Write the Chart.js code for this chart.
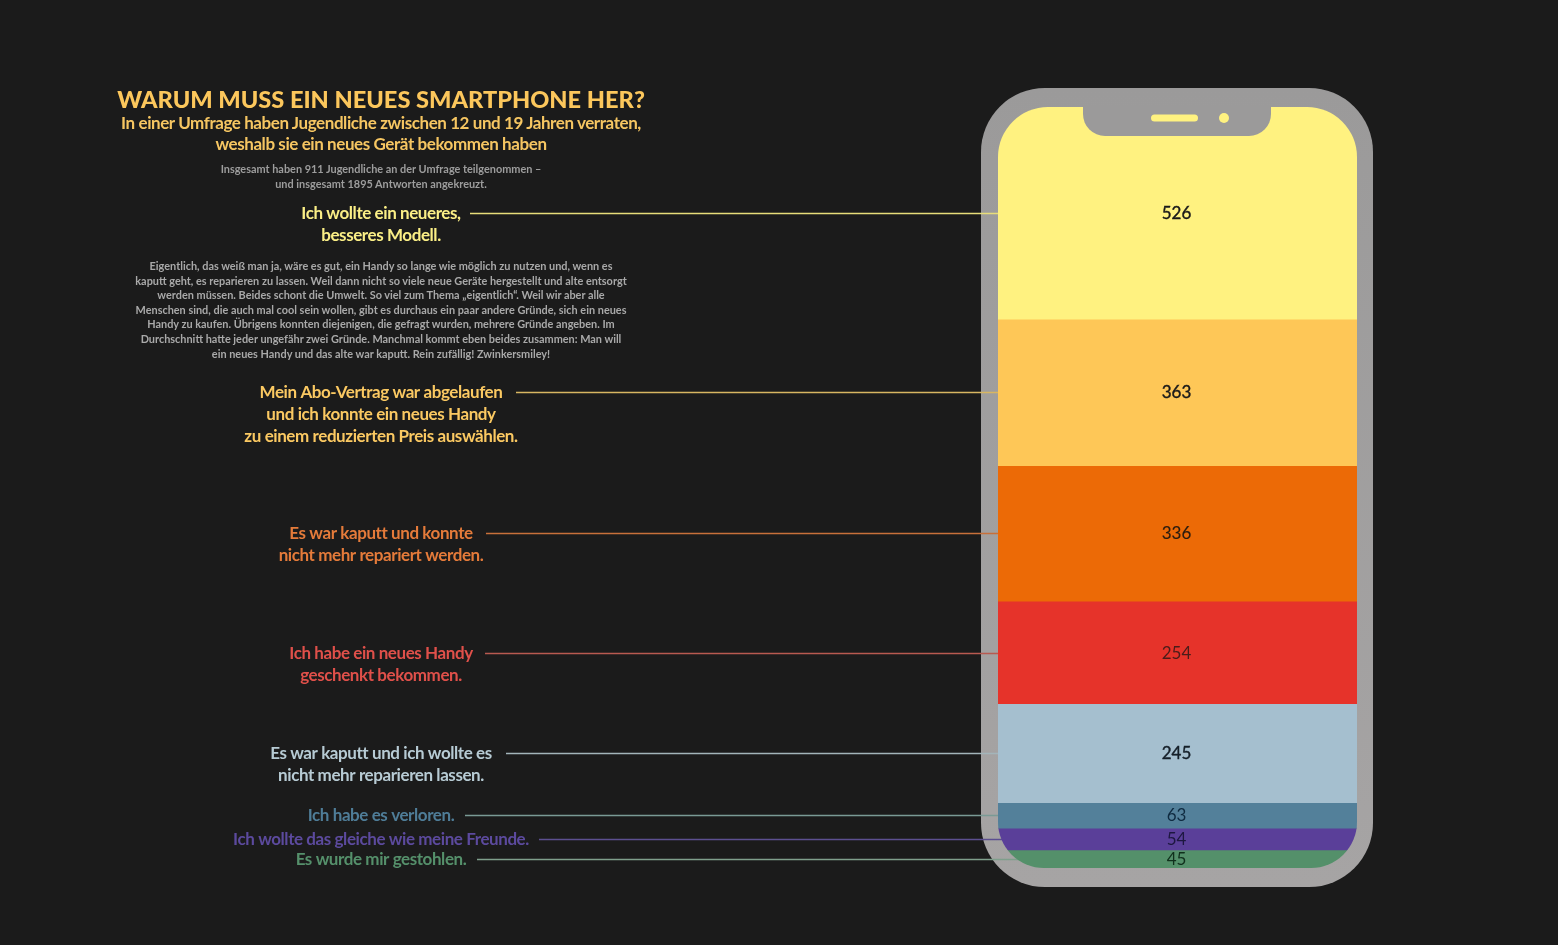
<!DOCTYPE html>
<html lang="de">
<head>
<meta charset="utf-8">
<title>Warum muss ein neues Smartphone her?</title>
<script src="https://cdn.jsdelivr.net/npm/chart.js@4"></script>
<style>
html,body{margin:0;padding:0;background:#1b1b1b;width:1558px;height:945px;overflow:hidden}
#wrap{position:relative;width:1558px;height:945px}
canvas{position:absolute;left:0;top:0}
.t{position:absolute;left:81px;width:600px;text-align:center;font-family:Lato,sans-serif;white-space:nowrap}
#h1{top:84px;font-size:23.6px;line-height:30px;font-weight:900;color:#fcc75c}
#h2{top:112px;font-size:17px;line-height:21px;font-weight:700;letter-spacing:-.42px;color:#f6c662}
#h3{top:162px;font-size:10.9px;line-height:14.5px;font-weight:700;color:#9d9d9d}
#p{top:259px;font-size:10.9px;line-height:14.6px;font-weight:700;color:#a9a9a9}
</style>
</head>
<body>
<div id="wrap">
<canvas id="c" width="1558" height="945"></canvas>
<div class="t" id="h1">WARUM MUSS EIN NEUES SMARTPHONE HER?</div>
<div class="t" id="h2">In einer Umfrage haben Jugendliche zwischen 12 und 19 Jahren verraten,<br>weshalb sie ein neues Gerät bekommen haben</div>
<div class="t" id="h3">Insgesamt haben 911 Jugendliche an der Umfrage teilgenommen –<br>und insgesamt 1895 Antworten angekreuzt.</div>
<div class="t" id="p">Eigentlich, das weiß man ja, wäre es gut, ein Handy so lange wie möglich zu nutzen und, wenn es<br>kaputt geht, es reparieren zu lassen. Weil dann nicht so viele neue Geräte hergestellt und alte entsorgt<br>werden müssen. Beides schont die Umwelt. So viel zum Thema „eigentlich“. Weil wir aber alle<br>Menschen sind, die auch mal cool sein wollen, gibt es durchaus ein paar andere Gründe, sich ein neues<br>Handy zu kaufen. Übrigens konnten diejenigen, die gefragt wurden, mehrere Gründe angeben. Im<br>Durchschnitt hatte jeder ungefähr zwei Gründe. Manchmal kommt eben beides zusammen: Man will<br>ein neues Handy und das alte war kaputt. Rein zufällig! Zwinkersmiley!</div>
</div>
<script>
const reasons = [
  ["Ich wollte ein neueres,", "besseres Modell."],
  ["Mein Abo-Vertrag war abgelaufen", "und ich konnte ein neues Handy", "zu einem reduzierten Preis auswählen."],
  ["Es war kaputt und konnte", "nicht mehr repariert werden."],
  ["Ich habe ein neues Handy", "geschenkt bekommen."],
  ["Es war kaputt und ich wollte es", "nicht mehr reparieren lassen."],
  ["Ich habe es verloren."],
  ["Ich wollte das gleiche wie meine Freunde."],
  ["Es wurde mir gestohlen."]
];
const answers = [526, 363, 336, 254, 245, 63, 54, 45];
const barColors = ["#fff280", "#fec757", "#ec6a06", "#e6332a", "#a5bfcf", "#53809a", "#5a3f99", "#54906a"];
const labelColors = ["#fbef86", "#fbc962", "#e57b3a", "#e0504a", "#b7cbd4", "#4f7d98", "#5c4a9e", "#55906b"];
const leaderColors = ["#e8dd7a", "#d8b662", "#c8703a", "#b85a50", "#a3b5ba", "#7a9a95", "#5c4f90", "#7f9f8c"];
const valueColors = ["#1a1a1a", "#1a1a1a", "#2a1c10", "#4a1d1a", "#16202a", "#0f2a40", "#1d1740", "#10301c"];
const valueStroke = [0.4, 0.4, 0.15, 0, 0.4, 0, 0, 0];
const leaderStarts = [470, 516, 486, 485, 506, 465, 539, 477];

const total = answers.reduce((a, b) => a + b, 0);
const LABEL_X = 381;

function screenPath(ctx, a) {
  ctx.beginPath();
  ctx.roundRect(a.left, a.top, a.right - a.left, a.bottom - a.top, [50, 50, 46, 46]);
}

const phone = {
  id: "phone",
  beforeDatasetsDraw(chart) {
    const { ctx, chartArea: a, scales: { y } } = chart;
    const g = ctx.createLinearGradient(0, 88, 0, 887);
    g.addColorStop(0, "#9b9a9a");
    g.addColorStop(1, "#a6a4a4");
    ctx.save();
    ctx.fillStyle = g;
    ctx.beginPath();
    ctx.roundRect(981, 88, 392, 799, 64);
    ctx.fill();
    let sum = 0;
    ctx.lineWidth = 1.3;
    answers.forEach((v, i) => {
      const py = Math.round(y.getPixelForValue(sum + v / 2)) + 0.5;
      sum += v;
      ctx.strokeStyle = leaderColors[i];
      ctx.beginPath();
      ctx.moveTo(leaderStarts[i], py);
      ctx.lineTo(a.left + 30, py);
      ctx.stroke();
    });
    ctx.restore();
    ctx.save();
    screenPath(ctx, a);
    ctx.clip();
  },
  afterDatasetsDraw(chart) {
    const { ctx, chartArea: a, scales: { y } } = chart;
    ctx.restore();
    ctx.save();
    // notch with speaker and camera
    ctx.fillStyle = "#9b9a9a";
    ctx.beginPath();
    ctx.roundRect(1083, a.top - 2, 188, 31, [0, 0, 22, 22]);
    ctx.fill();
    ctx.fillStyle = barColors[0];
    ctx.beginPath();
    ctx.roundRect(1151, 114.5, 47, 7, 3.5);
    ctx.fill();
    ctx.beginPath();
    ctx.arc(1224, 118, 5, 0, Math.PI * 2);
    ctx.fill();
    // values inside the phone, labels to the left
    let sum = 0;
    ctx.textBaseline = "middle";
    answers.forEach((v, i) => {
      const py = Math.round(y.getPixelForValue(sum + v / 2)) + 0.5;
      sum += v;
      ctx.textAlign = "center";
      ctx.letterSpacing = "0px";
      ctx.font = "400 17px Lato, sans-serif";
      ctx.fillStyle = valueColors[i];
      const cx = (a.left + a.right) / 2 - 1;
      ctx.fillText(String(v), cx, py);
      if (valueStroke[i] > 0) {
        ctx.lineWidth = valueStroke[i];
        ctx.strokeStyle = valueColors[i];
        ctx.strokeText(String(v), cx, py);
      }
      ctx.letterSpacing = "-0.42px";
      ctx.font = "700 17px Lato, sans-serif";
      ctx.fillStyle = labelColors[i];
      reasons[i].forEach((line, k) => ctx.fillText(line, LABEL_X, py + k * 22));
    });
    ctx.restore();
  }
};

new Chart(document.getElementById("c"), {
  type: "bar",
  data: {
    labels: ["Antworten"],
    datasets: answers.map((v, i) => ({
      label: reasons[i].join(" "),
      data: [v],
      backgroundColor: barColors[i],
      borderWidth: 0,
      categoryPercentage: 1,
      barPercentage: 1
    }))
  },
  options: {
    responsive: false,
    animation: false,
    devicePixelRatio: 1,
    layout: { padding: { left: 998, right: 201, top: 107, bottom: 77 } },
    plugins: { legend: { display: false }, tooltip: { enabled: false }, title: { display: false } },
    scales: {
      x: { stacked: true, display: false },
      y: { stacked: true, display: false, reverse: true, min: 0, max: total }
    }
  },
  plugins: [phone]
});
</script>
</body>
</html>
